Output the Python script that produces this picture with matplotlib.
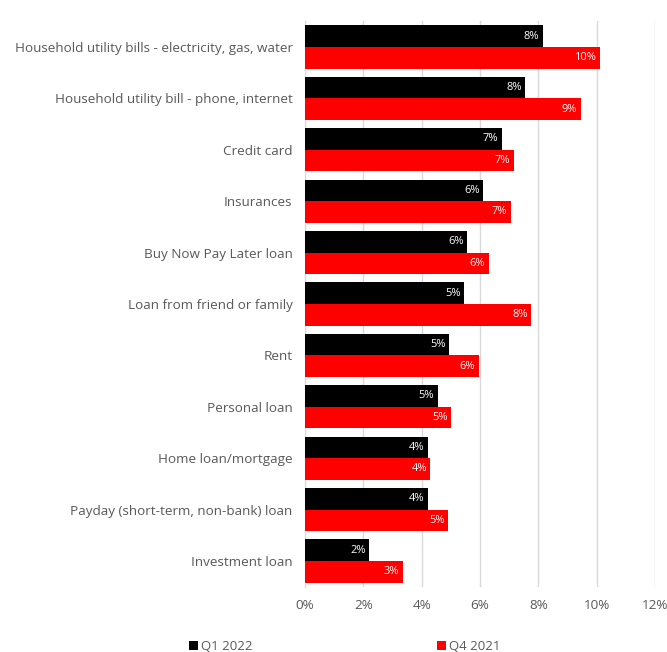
import numpy as np
import matplotlib.pyplot as plt

plt.rcParams['font.family'] = ['Open Sans', 'DejaVu Sans']

categories = [
    'Household utility bills - electricity, gas, water',
    'Household utility bill - phone, internet',
    'Credit card',
    'Insurances',
    'Buy Now Pay Later loan',
    'Loan from friend or family',
    'Rent',
    'Personal loan',
    'Home loan/mortgage',
    'Payday (short-term, non-bank) loan',
    'Investment loan',
]
q1_2022 = [8.15, 7.55, 6.75, 6.1, 5.55, 5.45, 4.95, 4.55, 4.2, 4.2, 2.2]
q4_2021 = [10.1, 9.45, 7.15, 7.05, 6.3, 7.75, 5.95, 5.0, 4.3, 4.9, 3.35]
xticks = [0, 2, 4, 6, 8, 10, 12]

grey = '#595959'
fig = plt.figure(figsize=(6.67, 6.52), dpi=100)
ax = fig.add_axes([0.4573, 0.1002, 0.5247, 0.8672])

y = np.arange(len(categories))
h = 0.42
b1 = ax.barh(y - h / 2, q1_2022, height=h, color='black', label='Q1 2022', zorder=3)
b2 = ax.barh(y + h / 2, q4_2021, height=h, color='#ff0000', label='Q4 2021', zorder=3)

for bars, vals in ((b1, q1_2022), (b2, q4_2021)):
    for bar, v in zip(bars, vals):
        ax.text(bar.get_width() - 0.12, bar.get_y() + bar.get_height() / 2,
                '{:.0f}%'.format(v), color='white', fontsize=8,
                ha='right', va='center', zorder=4)

ax.set_xlim(0, 12)
ax.set_ylim(len(categories) - 0.5, -0.5)
ax.set_xticks(xticks)
ax.set_xticklabels(['{}%'.format(t) for t in xticks])
ax.set_yticks(y)
ax.set_yticklabels(categories)
ax.tick_params(axis='both', length=0, colors=grey, labelsize=9.7)
ax.tick_params(axis='y', pad=9)
ax.tick_params(axis='x', pad=9)
ax.grid(axis='x', color='#d9d9d9', linewidth=1, zorder=0)
for side in ('top', 'right', 'bottom'):
    ax.spines[side].set_visible(False)
ax.spines['left'].set_color('#d9d9d9')

fig.legend(handles=[b1, b2], loc='lower left', bbox_to_anchor=(0.265, -0.02),
           ncol=2, frameon=False, fontsize=9.5, labelcolor=grey,
           handlelength=0.7, handleheight=0.7, handletextpad=0.2,
           columnspacing=14)

fig.savefig('out.png', dpi=100)
